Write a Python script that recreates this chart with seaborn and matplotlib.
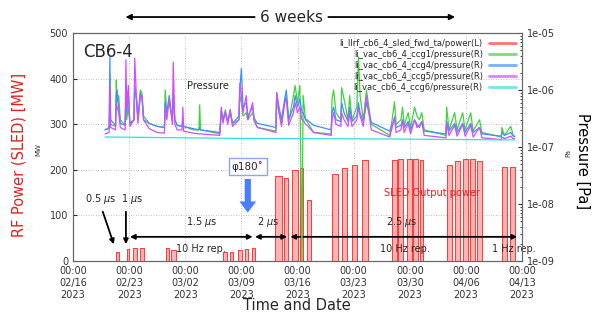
"""
CB6-4 conditioning history: SLED output power and vacuum pressure.
"""

import numpy as np
import pandas as pd
import matplotlib
matplotlib.use("Agg")
import matplotlib.pyplot as plt
import seaborn as sns

# ---- data (days since 2023-02-16 00:00) ----
# SLED output power bursts: start day, end day, level [MW]
burst_start = [5.35, 6.75, 7.5, 8.35, 11.6, 12.25, 18.7, 19.6, 20.6, 21.4, 22.3,
               25.2, 26.3, 27.3, 28.3, 29.2, 32.3, 33.5, 34.8, 36.0,
               39.8, 40.5, 41.6, 42.4, 43.3, 46.6, 47.6, 48.6, 49.5, 50.4,
               53.5, 54.5]
burst_end = [5.7, 7.0, 8.0, 8.85, 12.0, 12.8, 19.2, 20.0, 21.1, 21.8, 22.7,
             26.1, 26.8, 28.1, 28.7, 29.7, 33.0, 34.2, 35.4, 36.8,
             40.4, 41.1, 42.3, 43.0, 43.6, 47.3, 48.3, 49.3, 50.1, 51.0,
             54.1, 55.1]
burst_mw = [20, 27, 28, 28, 28, 25, 20, 20, 24, 27, 28,
            186, 182, 200, 205, 134, 190, 205, 210, 222,
            221, 224, 224, 224, 222, 210, 220, 224, 224, 220,
            206, 206]

# pressure samples, values in units of 1e-7 Pa
p_day = [4.0, 4.5, 4.6, 4.7, 5.3, 5.4, 5.5, 5.7, 5.9, 6.5, 6.6, 6.7, 6.9, 7.1,
         7.6, 7.7, 7.9, 8.1, 8.4, 8.6, 8.8, 9.5, 10.5, 11.4, 11.5, 11.7, 12.0,
         12.4, 12.5, 12.7, 13.0, 13.6, 13.7, 13.8, 15.0, 15.7, 15.8, 15.9, 18.3,
         18.5, 18.7, 19.0, 19.3, 19.6, 19.9, 20.7, 20.8, 21.0, 21.2, 21.6, 21.8,
         22.4, 22.6, 23.0, 25.3, 25.4, 25.7, 26.0, 26.4, 26.6, 26.9, 27.5, 27.7,
         28.0, 28.3, 28.55, 28.7, 29.0, 29.2, 30.0, 32.2, 32.3, 32.5, 32.8, 33.4,
         33.5, 33.8, 34.3, 34.5, 34.8, 35.4, 35.6, 35.8, 36.2, 36.6, 36.9, 37.2,
         39.5, 39.8, 40.1, 40.3, 40.9, 41.1, 41.3, 41.8, 42.1, 42.6, 42.9, 43.2,
         43.5, 43.8, 46.5, 46.6, 46.9, 47.6, 47.9, 48.6, 48.9, 49.6, 49.9, 50.7,
         51.0, 53.4, 53.5, 53.8, 54.6, 54.9, 55.1]
ccg1 = [2.0, 2.1, 3.0, 2.5, 2.3, 15, 6, 8, 3, 2.4, 6, 3, 5, 2.6,
        3, 10, 8, 3, 10, 9, 3.5, 2.6, 2.3, 2.2, 10, 4, 6,
        3, 8, 3, 2.4, 2.3, 2.5, 2.3, 2.0, 2.0, 5.5, 2.0, 1.7,
        4, 3, 4.5, 2.8, 4, 2.6, 3, 8, 6, 3.5, 4, 3,
        4, 3, 2.2, 1.9, 6, 4, 2.5, 6, 8, 2.8, 8, 12,
        6, 12, 0.01, 8, 3, 2.8, 1.8, 1.7, 7, 10, 4, 3,
        11, 7, 3, 8, 3, 5, 38, 8, 3, 10, 5, 2.5,
        1.6, 3, 6.2, 2.5, 3, 5, 2.4, 4, 2.2, 5, 3.5, 3,
        4, 2.0, 1.6, 5, 2, 4, 2, 4, 2, 4, 1.9, 3,
        1.8, 1.5, 2.2, 1.6, 2.3, 1.6, 1.5]
ccg4 = [2.0, 2.2, 38, 3.0, 2.4, 8, 10, 5, 2.6, 2.4, 8, 4, 8, 2.6,
        3, 12, 7, 3, 9, 7, 3, 2.6, 2.3, 2.2, 6, 4, 8,
        3, 10, 3, 2.4, 2.3, 3, 2.3, 2.1, 2.0, 2.2, 2.0, 1.8,
        4.5, 3, 4, 2.8, 4.5, 2.6, 3.5, 10, 24, 5, 6, 3.5,
        5, 3.2, 2.6, 2.2, 9, 5, 3, 7, 10, 3, 5, 8,
        5, 7, 4, 4, 3, 3, 2.4, 2.0, 4, 5, 3, 2.8,
        6, 4, 2.8, 5, 2.8, 3.5, 6, 4, 2.8, 6, 4, 2.7,
        1.9, 2.5, 3, 2.2, 2.4, 3, 2.2, 2.8, 2.0, 3, 2.5, 2.2,
        2.8, 1.9, 1.7, 2.8, 1.9, 2.6, 1.8, 2.6, 1.8, 2.6, 1.8, 2.2,
        1.7, 1.55, 1.8, 1.6, 1.8, 1.55, 1.55]
ccg5 = [1.7, 1.8, 12, 2.2, 2.0, 6, 5, 4, 2.2, 2.0, 34, 5, 12, 2.3,
        3, 36, 8, 2.6, 8, 8, 3, 2.1, 1.8, 1.75, 5, 3, 7,
        2.5, 31, 2.5, 2.0, 2.0, 5, 1.9, 1.75, 1.7, 1.7, 1.7, 1.6,
        5, 2.6, 4, 2.5, 4.5, 2.3, 3, 13, 8, 4, 8, 3,
        6, 2.8, 2.2, 1.8, 9, 4, 2.3, 6, 7, 2.4, 4, 6,
        4, 5, 3, 3, 2.5, 2.4, 1.8, 1.6, 3, 4, 2.5, 2.3,
        4, 3, 2.3, 4, 2.3, 3, 5, 3.5, 2.3, 8, 4, 2.0,
        1.5, 2.2, 3.4, 1.8, 2, 3, 1.8, 2.6, 1.7, 3, 2.2, 2.4,
        2.8, 1.6, 1.45, 2.6, 1.6, 2.4, 1.55, 2.5, 1.55, 2.4, 1.5, 2.2,
        1.45, 1.35, 1.5, 1.4, 1.55, 1.4, 1.4]
ccg6_day = [4.0, 20.0, 40.0, 55.1]
ccg6 = [1.5, 1.42, 1.38, 1.33]

week_days = [0, 7, 14, 21, 28, 35, 42, 49, 56]
week_labels = ["00:00\n02/16\n2023", "00:00\n02/23\n2023", "00:00\n03/02\n2023",
               "00:00\n03/09\n2023", "00:00\n03/16\n2023", "00:00\n03/23\n2023",
               "00:00\n03/30\n2023", "00:00\n04/06\n2023", "00:00\n04/13\n2023"]

legend_labels = ["li_llrf_cb6_4_sled_fwd_ta/power(L)",
                 "li_vac_cb6_4_ccg1/pressure(R)",
                 "li_vac_cb6_4_ccg4/pressure(R)",
                 "li_vac_cb6_4_ccg5/pressure(R)",
                 "li_vac_cb6_4_ccg6/pressure(R)"]

# ---- build frames ----
pw_x, pw_y = [], []
for s, e, v in zip(burst_start, burst_end, burst_mw):
    pw_x += [s, s, e, e]
    pw_y += [0, v, v, 0]
power = pd.DataFrame({"day": pw_x, "mw": pw_y})

press = pd.DataFrame({"day": p_day,
                      "ccg1": np.array(ccg1) * 1e-7,
                      "ccg4": np.array(ccg4) * 1e-7,
                      "ccg5": np.array(ccg5) * 1e-7})
press6 = pd.DataFrame({"day": ccg6_day, "ccg6": np.array(ccg6) * 1e-7})

# ---- plot ----
sns.set_style("white")
plt.rcParams["font.family"] = ["DejaVu Sans"]

fig = plt.figure(figsize=(5.93, 3.22), dpi=100)
ax = fig.add_axes([0.1231, 0.1894, 0.7572, 0.7081])
ax2 = ax.twinx()

RED = "#ff3a3a"
ax.fill_between(power["day"], power["mw"], color="#ffb4b4", lw=0)
sns.lineplot(data=power, x="day", y="mw", ax=ax, sort=False, estimator=None,
             color=RED, lw=0.7, label=legend_labels[0], legend=False)

colors = {"ccg1": "#3fd23f", "ccg4": "#3f8fff", "ccg5": "#d24dff"}
for i, col in enumerate(["ccg1", "ccg4", "ccg5"]):
    sns.lineplot(data=press, x="day", y=col, ax=ax2, sort=False, estimator=None,
                 color=colors[col], lw=0.9, label=legend_labels[i + 1], legend=False)
sns.lineplot(data=press6, x="day", y="ccg6", ax=ax2, sort=False, estimator=None,
             color="#30e0e0", lw=0.9, label=legend_labels[4], legend=False)

# axes
ax.set_xlim(0, 56)
ax.set_ylim(0, 500)
ax2.set_yscale("log")
ax2.set_ylim(1e-9, 1e-5)
ax.set_xticks(week_days)
ax.set_xticklabels(week_labels, fontsize=7, color="#333333", linespacing=1.25)
ax.set_xticks(np.arange(0, 57, 1), minor=True)
ax.set_yticks([0, 100, 200, 300, 400, 500])
ax.tick_params(axis="y", labelsize=7, labelcolor="#333333", direction="in", length=3)
ax.tick_params(axis="x", which="both", direction="in", length=3)
ax.tick_params(axis="x", which="minor", length=2)
ax2.set_yticks([1e-9, 1e-8, 1e-7, 1e-6, 1e-5])
ax2.set_yticklabels(["1e-09", "1e-08", "1e-07", "1e-06", "1e-05"])
ax2.tick_params(axis="y", labelsize=7, labelcolor="#333333", direction="in", length=3)
ax2.tick_params(axis="y", which="minor", direction="in", length=1.5)
ax.grid(True, ls=(0, (1, 2)), color="#aaaaaa", lw=0.6)
for a in (ax, ax2):
    for sp in a.spines.values():
        sp.set_color("#666666")
        sp.set_linewidth(0.8)

ax.set_xlabel("")
ax.set_ylabel("")
ax2.set_ylabel("")
fig.text(0.032, 0.52, "RF Power (SLED) [MW]", rotation=90, color="#e0201c",
         fontsize=10.5, ha="center", va="center")
fig.text(0.064, 0.535, "MW", rotation=90, fontsize=5, color="#333333",
         ha="center", va="center")
fig.text(0.983, 0.50, "Pressure [Pa]", rotation=270, color="black",
         fontsize=10.5, ha="center", va="center")
fig.text(0.958, 0.525, "Pa", rotation=90, fontsize=5, color="#333333",
         ha="center", va="center")
fig.text(0.50, 0.052, "Time and Date", fontsize=10.5, ha="center", va="center")

# legend (label first, line after)
h1, l1 = ax.get_legend_handles_labels()
h2, l2 = ax2.get_legend_handles_labels()
leg = ax2.legend(h1 + h2, l1 + l2, loc="upper right", frameon=False, fontsize=6,
                 markerfirst=False, handlelength=3.3, handletextpad=0.7,
                 labelspacing=0.25, borderaxespad=0.3)
for ln in leg.get_lines():
    ln.set_linewidth(2.0)
    ln.set_alpha(0.7)

# annotations
ax.text(0.022, 0.915, "CB6-4", transform=ax.transAxes, fontsize=12,
        ha="left", va="center")
ax2.text(16.8, 1.17e-6, "Pressure", fontsize=7, ha="center", va="center")
ax.text(44.8, 149, "SLED Output power", fontsize=7, color="#e0201c",
        ha="center", va="center")

arrow_kw = dict(arrowstyle="-|>", color="black", lw=1.3, mutation_scale=7)
dbl_kw = dict(arrowstyle="<|-|>", color="black", lw=1.3, mutation_scale=7,
              shrinkA=0, shrinkB=0)
ax.annotate("", xy=(5.2, 31), xytext=(3.6, 114), arrowprops=arrow_kw)
ax.annotate("", xy=(6.6, 31), xytext=(6.6, 114), arrowprops=arrow_kw)
ax.text(3.5, 137, "0.5 $\\mu$s", fontsize=7, ha="center", va="center")
ax.text(7.4, 137, "1 $\\mu$s", fontsize=7, ha="center", va="center")
ax.annotate("", xy=(7.1, 53), xytext=(22.4, 53), arrowprops=dbl_kw)
ax.annotate("", xy=(22.7, 53), xytext=(26.7, 53), arrowprops=dbl_kw)
ax.annotate("", xy=(27.1, 53), xytext=(55.4, 53), arrowprops=dbl_kw,
            annotation_clip=False)
ax.text(16.1, 86, "1.5 $\\mu$s", fontsize=7, ha="center", va="center")
ax.text(24.3, 86, "2 $\\mu$s", fontsize=7, ha="center", va="center")
ax.text(41.0, 86, "2.5 $\\mu$s", fontsize=7, ha="center", va="center")
ax.text(16.0, 26, "10 Hz rep.", fontsize=7, ha="center", va="center")
ax.text(41.4, 26, "10 Hz rep.", fontsize=7, ha="center", va="center")
ax.text(55.0, 26, "1 Hz rep.", fontsize=7, ha="center", va="center", clip_on=False)

ax.text(21.8, 207, "\u03c6180\u02da", fontsize=7.5, ha="center", va="center",
        bbox=dict(boxstyle="square,pad=0.3", fc="white", ec="#8aa4ff", lw=1))
ax.annotate("", xy=(21.8, 100), xytext=(21.8, 186),
            arrowprops=dict(arrowstyle="simple,head_width=1.2,head_length=0.8,tail_width=0.45",
                            color="#4a7dff", lw=0, mutation_scale=10))

# "6 weeks" arrow above the axes
ax.annotate("", xy=(6.2, 1.07), xytext=(23.0, 1.07), xycoords=("data", "axes fraction"),
            textcoords=("data", "axes fraction"), annotation_clip=False,
            arrowprops=dict(arrowstyle="-|>", color="black", lw=1.3, mutation_scale=8))
ax.annotate("", xy=(48.0, 1.07), xytext=(31.5, 1.07), xycoords=("data", "axes fraction"),
            textcoords=("data", "axes fraction"), annotation_clip=False,
            arrowprops=dict(arrowstyle="-|>", color="black", lw=1.3, mutation_scale=8))
ax.text(27.2, 1.07, "6 weeks", transform=ax.get_xaxis_transform(), fontsize=11,
        ha="center", va="center")

fig.savefig("out.png", dpi=100)
